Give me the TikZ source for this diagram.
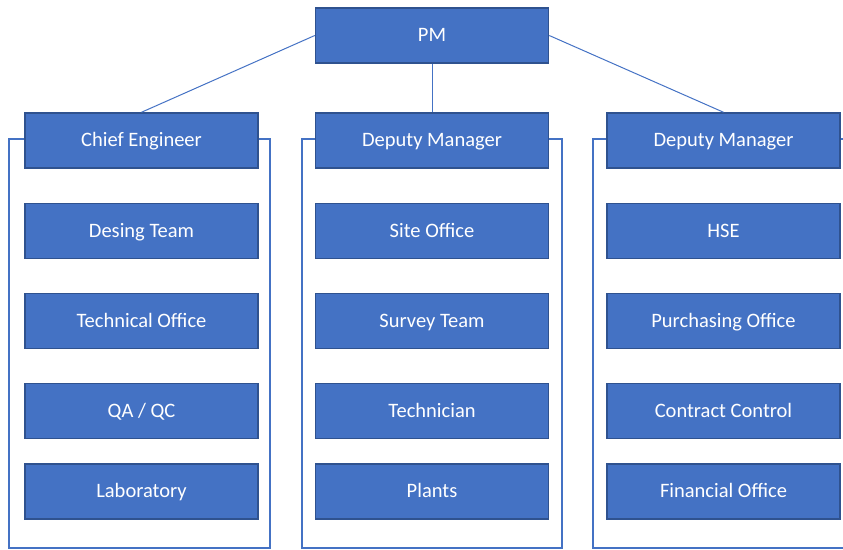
\documentclass[tikz,border=0pt]{standalone}
\usepackage{fontspec}
\setmainfont{Carlito}
\definecolor{boxfill}{HTML}{4472C4}
\definecolor{boxedge}{HTML}{2F528F}
\begin{document}
\begin{tikzpicture}[x=1pt,y=-1pt,
  orgbox/.style={draw=boxedge,line width=1.5pt,fill=boxfill,text=white,
    minimum width=233pt,minimum height=55pt,inner sep=0pt,
    text height=14pt,text depth=2pt,
    font=\fontsize{20.5}{24}\selectfont},
  link/.style={draw=boxfill,line width=1pt},
  bracket/.style={draw=boxfill,line width=1.6pt}]
\useasboundingbox (0,0) rectangle (843,549);
\clip (0,0) rectangle (843,549);
% top
\node[orgbox] (pm) at (432,35.5) {PM};
% columns
\node[orgbox] (ce) at (141.5,140.5) {Chief Engineer};
\node[orgbox] (dm1) at (432,140.5) {Deputy Manager};
\node[orgbox] (dm2) at (723.5,140.5) {Deputy Manager};
\node[orgbox] (a2) at (141.5,231) {Desing Team};
\node[orgbox] (a3) at (141.5,321) {Technical Office};
\node[orgbox] (a4) at (141.5,411) {QA / QC};
\node[orgbox] (a5) at (141.5,491.5) {Laboratory};
\node[orgbox] (b2) at (432,231) {Site Office};
\node[orgbox] (b3) at (432,321) {Survey Team};
\node[orgbox] (b4) at (432,411) {Technician};
\node[orgbox] (b5) at (432,491.5) {Plants};
\node[orgbox] (c2) at (723.5,231) {HSE};
\node[orgbox] (c3) at (723.5,321) {Purchasing Office};
\node[orgbox] (c4) at (723.5,411) {Contract Control};
\node[orgbox] (c5) at (723.5,491.5) {Financial Office};
% connectors from PM
\draw[link] (pm.west) -- (ce.north);
\draw[link] (pm.south) -- (dm1.north);
\draw[link] (pm.east) -- (dm2.north);
% brackets
\coordinate (l1) at (9,139); \coordinate (l2) at (9,548);
\coordinate (l3) at (270,548); \coordinate (l4) at (270,139);
\coordinate (m1) at (302,139); \coordinate (m2) at (302,548);
\coordinate (m3) at (562,548); \coordinate (m4) at (562,139);
\coordinate (r1) at (593,139); \coordinate (r2) at (593,548);
\coordinate (r3) at (854,548); \coordinate (r4) at (854,139);
\draw[bracket] (ce.west |- l1) -- (l1) -- (l2) -- (l3) -- (l4) -- (ce.east |- l4);
\draw[bracket] (dm1.west |- m1) -- (m1) -- (m2) -- (m3) -- (m4) -- (dm1.east |- m4);
\draw[bracket] (dm2.west |- r1) -- (r1) -- (r2) -- (r3) -- (r4) -- (dm2.east |- r4);
\end{tikzpicture}
\end{document}
